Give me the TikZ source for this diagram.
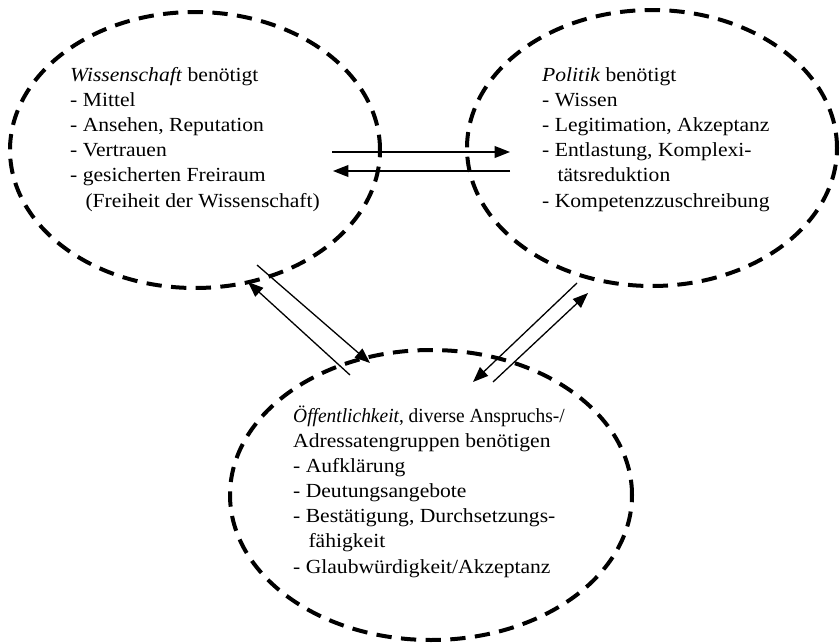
\documentclass[tikz,border=0pt]{standalone}
\usepackage{fontspec}
\setmainfont[FakeStretch=1.08]{Liberation Serif}
\usetikzlibrary{shapes.geometric,arrows.meta}
\newcommand{\indt}{\hspace*{13pt}}
\tikzset{
  ellip/.style={ellipse, draw, line width=3.4pt, dash pattern=on 13pt off 8pt, inner sep=0pt},
  txt/.style={align=left, inner sep=0pt, anchor=base west, font=\fontsize{17}{21.3}\selectfont},
  conn/.style={line width=1.1pt, -{Triangle[length=13pt,width=10pt]}}
}
\begin{document}
\begin{tikzpicture}[x=0.85pt,y=-0.85pt]
\useasboundingbox (0,0) rectangle (840,644);
\node[ellip, minimum width=314.5pt, minimum height=234.6pt] (W) at (195,150) {};
\node[ellip, minimum width=314.5pt, minimum height=234.6pt] (P) at (652,148) {};
\node[ellip, minimum width=341.7pt, minimum height=246.5pt] (O) at (431,495) {};
\node[txt] (tW) at (70,207) {\textit{Wissenschaft} benötigt\\- Mittel\\- Ansehen, Reputation\\- Vertrauen\\- gesicherten Freiraum\\\indt(Freiheit der Wissenschaft)};
\node[txt] (tP) at (542,207) {\textit{Politik} benötigt\\- Wissen\\- Legitimation, Akzeptanz\\- Entlastung, Komplexi-\\\indt tätsreduktion\\- Kompetenzzuschreibung};
\node[txt] (tO) at (293,573) {\scalebox{0.9}[1]{\textit{Öffentlichkeit}, diverse Anspruchs-/}\\Adressatengruppen benötigen\\- Aufklärung\\- Deutungsangebote\\- Bestätigung, Durchsetzungs-\\\indt fähigkeit\\- Glaubwürdigkeit/Akzeptanz};
% horizontal
\coordinate (a1) at (332,152); \coordinate (b1) at (510,152);
\coordinate (a2) at (510,171); \coordinate (b2) at (333,171);
\draw[conn] (a1) -- (b1);
\draw[conn] (a2) -- (b2);
% left diagonal
\coordinate (c1) at (257,265); \coordinate (d1) at (370,363);
\coordinate (c2) at (350,375); \coordinate (d2) at (248,282);
\draw[conn] (c1) -- (d1);
\draw[conn] (c2) -- (d2);
% right diagonal
\coordinate (e1) at (577,283); \coordinate (f1) at (473,382);
\coordinate (e2) at (493,382); \coordinate (f2) at (588,293);
\draw[conn] (e1) -- (f1);
\draw[conn] (e2) -- (f2);
\end{tikzpicture}
\end{document}
